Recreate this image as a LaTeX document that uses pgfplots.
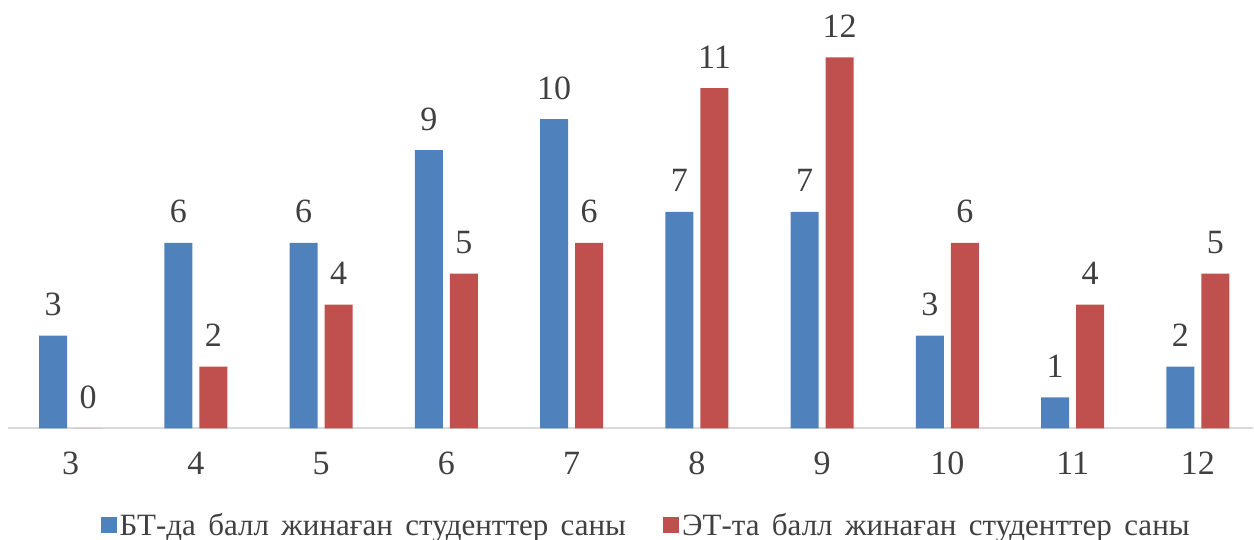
\documentclass[border=0pt]{standalone}
\usepackage{fontspec}
\setmainfont{Liberation Serif}
\newfontfamily\legfont[WordSpace=1.6]{Liberation Serif}
\usepackage{pgfplots}
\pgfplotsset{compat=1.18}
\definecolor{cblue}{HTML}{4F81BD}
\definecolor{cred}{HTML}{C0504D}
\definecolor{ctext}{HTML}{404040}
\definecolor{caxis}{HTML}{D9D9D9}
\begin{document}
\begin{tikzpicture}
\begin{axis}[
  scale only axis,
  width=622.3pt, height=200.9pt,
  xmin=-0.5, xmax=9.44,
  ymin=0, ymax=13,
  ybar=3.5pt, bar width=14pt,
  axis x line*=bottom,
  axis y line=none,
  x axis line style={draw=caxis, line width=1pt, -},
  xtick={0,...,9},
  xticklabels={3,4,5,6,7,8,9,10,11,12},
  major tick length=0pt,
  xticklabel style={anchor=base, yshift=-23.3pt, font=\fontsize{17}{20}\selectfont, text=ctext},
  /pgf/number format/assume math mode=true,
  nodes near coords,
  every node near coord/.append style={anchor=base, inner sep=0pt, yshift=10pt, font=\fontsize{17}{20}\selectfont, text=ctext},
  legend columns=2,
  legend style={at={(0.513,-0.2415)}, anchor=center, draw=none, fill=none,
    font=\legfont\fontsize{15.5}{18}\selectfont, text=ctext,
    nodes={inner sep=1.5pt},
    /tikz/every even column/.append style={column sep=17pt}},
  legend image code/.code={\fill[#1] (0pt,-4pt) rectangle (8pt,4pt);},
]
\addplot[fill=cblue, draw=none] coordinates {(0,3) (1,6) (2,6) (3,9) (4,10) (5,7) (6,7) (7,3) (8,1) (9,2)};
\addplot[fill=cred, draw=none] coordinates {(0,0) (1,2) (2,4) (3,5) (4,6) (5,11) (6,12) (7,6) (8,4) (9,5)};
\legend{БТ-да балл жинаған студенттер саны, ЭТ-та балл жинаған студенттер саны}
\end{axis}
\pgfresetboundingbox
\path ([xshift=-4pt,yshift=-55.5pt]current axis.south west) rectangle ([xshift=0.5pt,yshift=13.2pt]current axis.north east);
\end{tikzpicture}
\end{document}
